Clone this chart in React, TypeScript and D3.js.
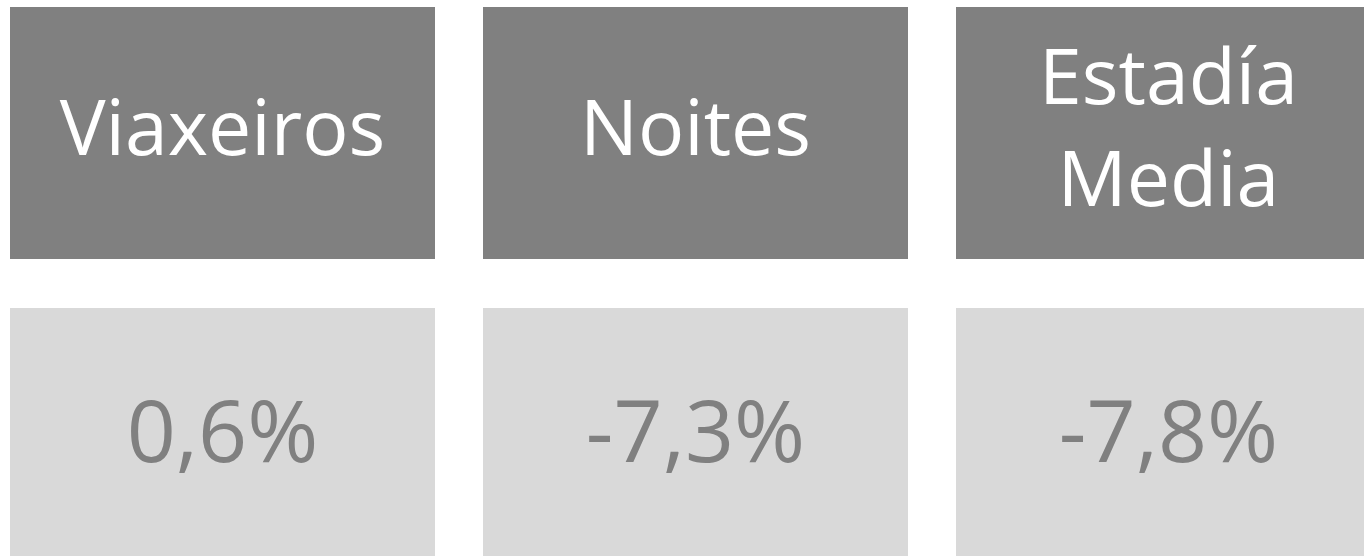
import React from "react";
import * as d3 from "d3";

const categories: string[][] = [["Viaxeiros"], ["Noites"], ["Estadía", "Media"]];
const keys: string[] = ["viaxeiros", "noites", "estadia"];
const values: number[] = [0.6, -7.3, -7.8];

const W = 1364;
const H = 556;

const locale = d3.formatLocale({ decimal: ",", thousands: ".", grouping: [3], currency: ["", "€"], minus: "-" });
const fmt = (v: number) => locale.format(".1f")(v) + "%";

export default function App() {
  const x = d3.scaleBand<string>().domain(keys).range([10, 1381]).paddingInner(48 / 473).paddingOuter(0);
  const y = d3.scaleBand<string>().domain(["head", "value"]).range([7, 560]).paddingInner(49 / 301).paddingOuter(0);
  const bw = x.bandwidth();
  const bh = y.bandwidth();
  const font = "'Open Sans', sans-serif";
  return (
    <svg width={W} height={H} style={{ position: "absolute", left: 0, top: 0 }} fontFamily={font}>
      <rect width={W} height={H} fill="#ffffff" />
      {keys.map((k, i) => {
        const x0 = x(k)!;
        const cx = x0 + bw / 2;
        const hy = y("head")!;
        const vy = y("value")!;
        const lines = categories[i];
        const lh = 102;
        const cy = hy + bh / 2 - 4;
        return (
          <g key={k}>
            <rect x={x0} y={hy} width={bw} height={bh} fill="#808080" />
            <text textAnchor="middle" fill="#ffffff" fontSize={77}>
              {lines.map((l, j) => (
                <tspan key={j} x={cx} y={cy + (j - (lines.length - 1) / 2) * lh + 26}>{l}</tspan>
              ))}
            </text>
            <rect x={x0} y={vy} width={bw} height={bh} fill="#d9d9d9" />
            <text x={cx} y={vy + bh / 2 + 28} textAnchor="middle" fill="#808080" fontSize={86}>
              {fmt(values[i])}
            </text>
          </g>
        );
      })}
    </svg>
  );
}
